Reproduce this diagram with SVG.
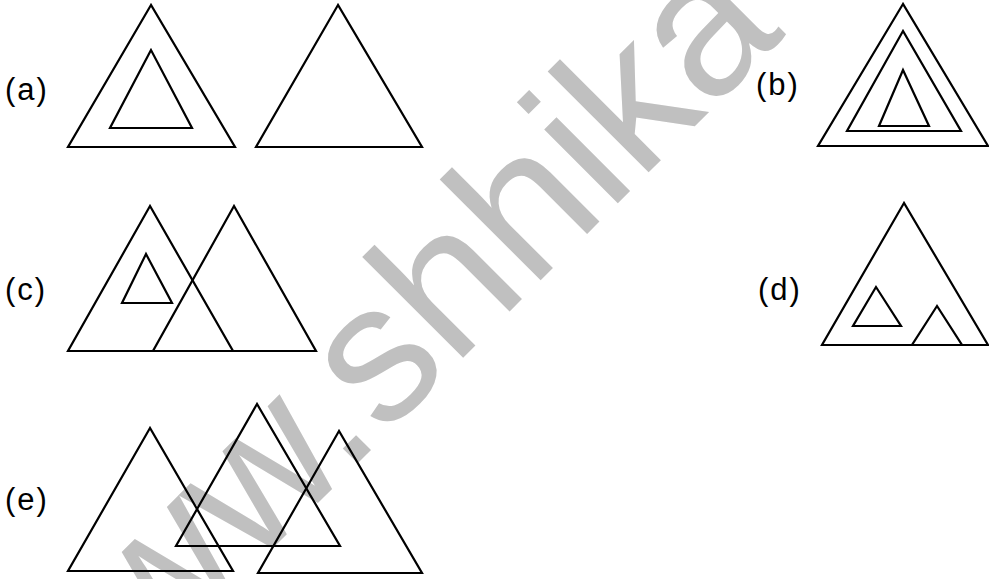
<svg xmlns="http://www.w3.org/2000/svg" width="989" height="579" viewBox="0 0 989 579">
<style>
.t{fill:none;stroke:#000;stroke-width:2.2;stroke-linejoin:miter}
.lb{font-family:"Liberation Sans",Arial,sans-serif;font-size:31px;fill:#000;letter-spacing:2px}
.wm{font-family:"Liberation Sans",Arial,sans-serif;font-size:197px;fill:#c0c0c0}
</style>
<rect width="989" height="579" fill="#fff"/>
<text class="wm" transform="translate(51,770) rotate(-45)">www.shhika</text>
<g id="fig-a">
<text class="lb" x="5" y="100">(a)</text>
<polygon class="t" points="151,5 68,147 235,147"/>
<polygon class="t" points="151,50 110,128 192,128"/>
<polygon class="t" points="338,5 256,147 422,147"/>
</g>
<g id="fig-b">
<text class="lb" x="756" y="95">(b)</text>
<polygon class="t" points="903,4 818,146 988,146"/>
<polygon class="t" points="903,31 847,131 961,131"/>
<polygon class="t" points="903,70 879,126 929,126"/>
</g>
<g id="fig-c">
<text class="lb" x="5" y="300">(c)</text>
<polygon class="t" points="150,206 68,351 233,351"/>
<polygon class="t" points="234,206 153,351 316,351"/>
<polygon class="t" points="146,254 122,303 172,303"/>
</g>
<g id="fig-d">
<text class="lb" x="758" y="300">(d)</text>
<polygon class="t" points="904,203 822,345 988,345"/>
<polygon class="t" points="876,287 853,326 901,326"/>
<polygon class="t" points="937,306 912,345 962,345"/>
</g>
<g id="fig-e">
<text class="lb" x="5" y="510">(e)</text>
<polygon class="t" points="150,428 68,571 233,571"/>
<polygon class="t" points="257,404 176,546 340,546"/>
<polygon class="t" points="339,431 258,573 422,573"/>
</g>
<g id="connectors"></g>
</svg>
